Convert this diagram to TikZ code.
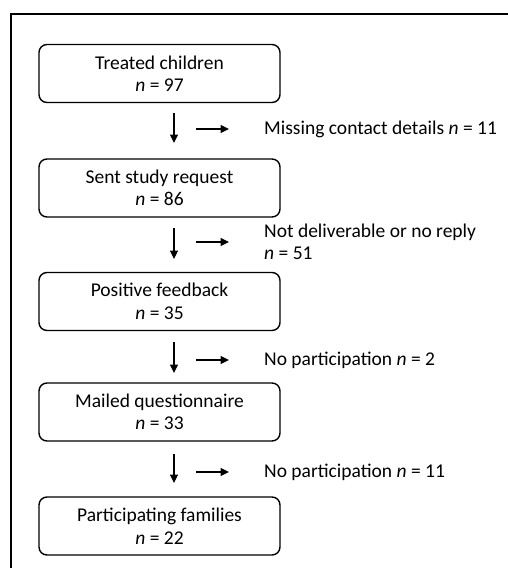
\documentclass[tikz,border=0pt]{standalone}
\usepackage{fontspec}
\setmainfont{Carlito}
\usetikzlibrary{arrows.meta}
\begin{document}
\begin{tikzpicture}[x=1pt,y=-1pt,
  stepbox/.style={draw, line width=1.4pt, rounded corners=8pt, minimum width=241pt, minimum height=58pt, align=center, inner sep=0pt, font=\fontsize{19.5}{22.5}\selectfont},
  lbl/.style={anchor=west, align=left, inner sep=0pt, font=\fontsize{19.5}{22}\selectfont},
  arr/.style={line width=1.1pt, -{Triangle[length=8.5pt,width=8pt]}}]
\useasboundingbox (0,0) rectangle (507,568);
\draw[line width=1.8pt] (11,575) -- (11,14) -- (515,14);
\node[stepbox] (b1) at (159.5,73.5) {Treated children\\\textit{n} = 97};
\node[stepbox] (b2) at (159.5,188) {Sent study request\\\textit{n} = 86};
\node[stepbox] (b3) at (159.5,301.5) {Positive feedback\\\textit{n} = 35};
\node[stepbox] (b4) at (159.5,412) {Mailed questionnaire\\\textit{n} = 33};
\node[stepbox] (b5) at (159.5,526) {Participating families\\\textit{n} = 22};
\coordinate (d1s) at (174,113); \coordinate (d1e) at (174,143);
\coordinate (d2s) at (174,228); \coordinate (d2e) at (174,259);
\coordinate (d3s) at (174,342); \coordinate (d3e) at (174,373);
\coordinate (d4s) at (174,454); \coordinate (d4e) at (174,483);
\draw[arr] (d1s) -- (d1e);
\draw[arr] (d2s) -- (d2e);
\draw[arr] (d3s) -- (d3e);
\draw[arr] (d4s) -- (d4e);
\node[lbl] (e1) at (264,129) {Missing contact details \textit{n} = 11};
\node[lbl] (e2) at (264,242) {Not deliverable or no reply\\\textit{n} = 51};
\node[lbl] (e3) at (264,360) {No participation \textit{n} = 2};
\node[lbl] (e4) at (264,472) {No participation \textit{n} = 11};
\coordinate (r1) at (196,129); \coordinate (r1e) at (229,129);
\coordinate (r2) at (196,242); \coordinate (r2e) at (229,242);
\coordinate (r3) at (196,360); \coordinate (r3e) at (229,360);
\coordinate (r4) at (196,472); \coordinate (r4e) at (229,472);
\draw[arr] (r1) -- (r1e);
\draw[arr] (r2) -- (r2e);
\draw[arr] (r3) -- (r3e);
\draw[arr] (r4) -- (r4e);
\end{tikzpicture}
\end{document}
